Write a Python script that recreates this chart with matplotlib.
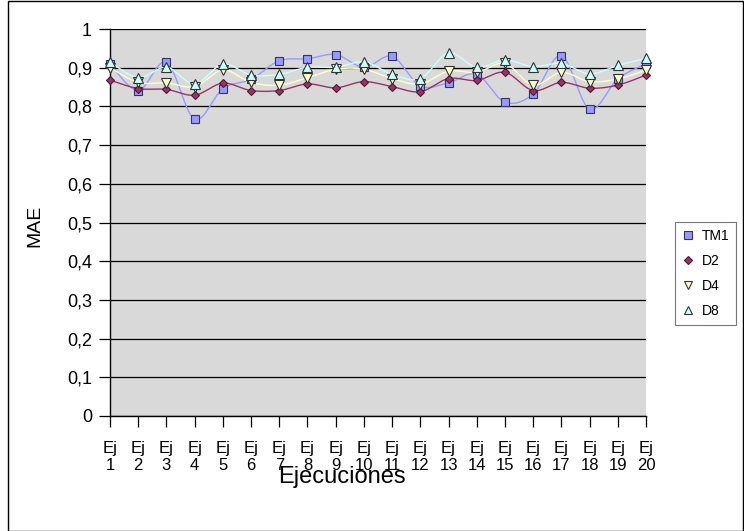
import numpy as np
import matplotlib
matplotlib.use("Agg")
import matplotlib.pyplot as plt
from matplotlib.lines import Line2D
from matplotlib.patches import Rectangle

plt.rcParams['font.family'] = ['Liberation Sans', 'DejaVu Sans']

categories = ["Ej\n%d" % i for i in range(1, 21)]
tm1 = [0.910, 0.841, 0.914, 0.767, 0.846, 0.870, 0.918, 0.923, 0.934, 0.901,
       0.929, 0.853, 0.861, 0.883, 0.811, 0.832, 0.931, 0.793, 0.871, 0.910]
d2 = [0.868, 0.846, 0.844, 0.829, 0.860, 0.841, 0.841, 0.858, 0.848, 0.864,
      0.851, 0.838, 0.872, 0.867, 0.888, 0.841, 0.862, 0.847, 0.855, 0.881]
d4 = [0.900, 0.862, 0.861, 0.851, 0.894, 0.862, 0.855, 0.874, 0.896, 0.896,
      0.872, 0.858, 0.891, 0.888, 0.911, 0.855, 0.888, 0.864, 0.871, 0.894]
d8 = [0.915, 0.874, 0.901, 0.858, 0.909, 0.881, 0.883, 0.901, 0.901, 0.915,
      0.883, 0.872, 0.938, 0.901, 0.920, 0.903, 0.911, 0.884, 0.906, 0.924]
yticks = [0, 0.1, 0.2, 0.3, 0.4, 0.5, 0.6, 0.7, 0.8, 0.9, 1.0]
ytick_labels = ["0", "0,1", "0,2", "0,3", "0,4", "0,5", "0,6", "0,7", "0,8", "0,9", "1"]


def smooth(x, y, n=30):
    # Excel-like smoothed line (Catmull-Rom as cubic bezier)
    x = np.asarray(x, float)
    y = np.asarray(y, float)
    px = np.concatenate([[x[0]], x, [x[-1]]])
    py = np.concatenate([[y[0]], y, [y[-1]]])
    t = np.linspace(0, 1, n)[:, None]
    xs, ys = [], []
    for i in range(1, len(px) - 2):
        p0 = np.array([px[i], py[i]])
        p3 = np.array([px[i + 1], py[i + 1]])
        p1 = p0 + (np.array([px[i + 1], py[i + 1]]) - np.array([px[i - 1], py[i - 1]])) / 6
        p2 = p3 - (np.array([px[i + 2], py[i + 2]]) - np.array([px[i], py[i]])) / 6
        b = ((1 - t) ** 3) * p0 + 3 * ((1 - t) ** 2) * t * p1 + 3 * (1 - t) * t ** 2 * p2 + t ** 3 * p3
        xs.append(b[:, 0])
        ys.append(b[:, 1])
    return np.concatenate(xs), np.concatenate(ys)


series = [
    ("TM1", tm1, "#9999FF", "#9999FF", "#333366", "s", 6.0),
    ("D2", d2, "#993366", "#993366", "#4d1a33", "D", 4.2),
    ("D4", d4, "#FFFFCC", "#FFFFCC", "#333333", "v", 6.5),
    ("D8", d8, "#CCFFFF", "#CCFFFF", "#333333", "^", 6.5),
]

fig = plt.figure(figsize=(7.44, 5.31), dpi=100)
ax = fig.add_axes([110 / 744, 1 - 416 / 531, 536 / 744, 387 / 531])
ax.set_facecolor("#D9D9D9")

x = np.arange(1, 21)
handles = []
for name, vals, lc, fc, ec, mk, ms in series:
    sx, sy = smooth(x, vals)
    ax.plot(sx, sy, color=lc, lw=1.0, clip_on=False, zorder=3)
    ax.plot(x, vals, ls="none", marker=mk, ms=ms, mfc=fc, mec=ec, mew=0.8,
            clip_on=False, zorder=4)
    handles.append(Line2D([], [], ls="none", marker=mk, ms=ms * 0.9, mfc=fc, mec=ec,
                          mew=0.8, label=name))

ax.set_xlim(1, 20)
ax.set_ylim(0, 1)
ax.set_yticks(yticks)
ax.set_yticklabels(ytick_labels, fontsize=13)
ax.set_xticks(x)
ax.set_xticklabels(categories, fontsize=12, linespacing=1.15)
ax.yaxis.grid(True, color="#000000", lw=0.9)
ax.set_axisbelow(True)
ax.tick_params(axis="both", direction="out", length=8, width=0.9, color="black", pad=5)
ax.tick_params(axis="x", pad=10)
for s in ["top", "right"]:
    ax.spines[s].set_visible(False)
for s in ["left", "bottom"]:
    ax.spines[s].set_color("black")
    ax.spines[s].set_linewidth(1.0)

ax.set_ylabel("MAE", fontsize=14)
ax.yaxis.set_label_coords(-0.125, 0.49)
ax.set_xlabel("Ejecuciones", fontsize=17)
ax.xaxis.set_label_coords(0.432, -0.158)
ax.xaxis.label.set_va("center")

leg = fig.legend(handles=handles, loc="upper left", bbox_to_anchor=(675 / 744, 1 - 222 / 531),
                 fontsize=10, frameon=True, fancybox=False, edgecolor="#555555",
                 handlelength=0.8, handletextpad=0.6, borderpad=0.5, labelspacing=0.8,
                 borderaxespad=0)
leg.get_frame().set_linewidth(0.8)

fig.patches.append(Rectangle((8 / 744, 0.5 / 531), 735 / 744, 529.5 / 531, transform=fig.transFigure,
                             fill=False, edgecolor="black", lw=1.0))

fig.savefig("out.png", dpi=100)
